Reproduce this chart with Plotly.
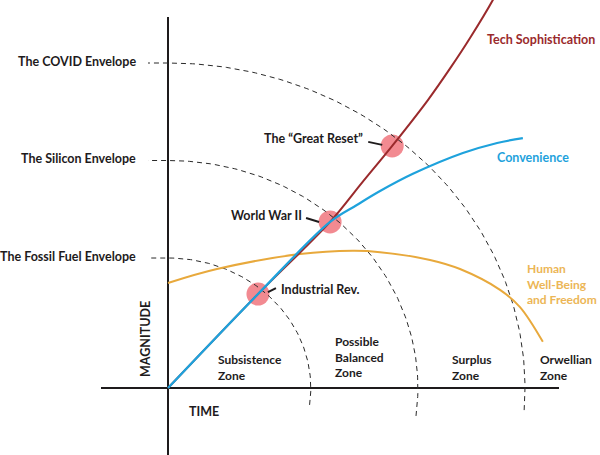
import numpy as np
import plotly.graph_objects as go

# ---------------- data ----------------
envelope_names = ["The Fossil Fuel Envelope", "The Silicon Envelope", "The COVID Envelope"]
envelope_radius = [4.0, 7.0, 10.0]
envelope_tail = [0.52, 0.86, 0.68]      # how far each arc dips below the time axis

tech_x = [0.0, 2.52, 4.54, 5.43, 6.28, 7.28, 7.93, 8.46, 9.10, 9.27]
tech_y = [0.0, 2.89, 5.11, 6.31, 7.45, 8.86, 9.88, 10.77, 11.94, 12.31]

conv_x = [0.0, 2.52, 4.54, 5.29, 5.94, 6.86, 8.26, 9.22, 9.94]
conv_y = [0.0, 2.89, 5.11, 5.63, 6.06, 6.59, 7.23, 7.54, 7.69]

human_x = [0.0, 1.37, 3.70, 5.18, 5.94, 7.34, 8.18, 9.30, 9.86, 10.50]
human_y = [3.23, 3.66, 4.12, 4.22, 4.18, 3.94, 3.66, 3.02, 2.49, 1.42]

event_names = ["Industrial Rev.", "World War II", "The \u201cGreat Reset\u201d"]
event_x = [2.52, 4.54, 6.28]
event_y = [2.89, 5.11, 7.45]

zone_names = ["Subsistence<br>Zone", "Possible<br>Balanced<br>Zone", "Surplus<br>Zone", "Orwellian<br>Zone"]

# ---------------- styling / layout helpers ----------------
W, H = 600, 455
OX, OY = 168, 388           # pixel position of origin
XS, YS = 35.7, 32.5         # pixels per data unit
def dx(px):  # pixel x -> data x
    return (px - OX) / XS
def dy(py):  # pixel y -> data y
    return (OY - py) / YS

FONT = "Lato, 'Open Sans', sans-serif"
FS = 12.5
INK = "#1e1b1c"
RED = "#9a2a2c"
BLUE = "#1ea2dc"
ORANGE = "#e8a93c"
ORANGE_TXT = "#ecb656"
PINK = "rgba(240,118,126,0.85)"

fig = go.Figure()

# event circles
fig.add_trace(go.Scatter(x=event_x, y=event_y, mode="markers",
                         marker=dict(size=23, color=PINK, line=dict(width=0)),
                         hoverinfo="skip", showlegend=False))

# envelope arcs
for r, tail in zip(envelope_radius, envelope_tail):
    t0 = -np.arcsin(tail / r)
    th = np.linspace(t0, np.pi / 2, 120)
    ax_ = list(r * np.cos(th)) + [dx(OX - 20)]
    ay_ = list(r * np.sin(th)) + [r]
    fig.add_trace(go.Scatter(x=ax_, y=ay_, mode="lines",
                             line=dict(color="#2a2a2a", width=1, dash="5px,4px"),
                             hoverinfo="skip", showlegend=False))

# curves
fig.add_trace(go.Scatter(x=human_x, y=human_y, mode="lines",
                         line=dict(color=ORANGE, width=2, shape="spline", smoothing=1.0),
                         hoverinfo="skip", showlegend=False))
fig.add_trace(go.Scatter(x=tech_x, y=tech_y, mode="lines",
                         line=dict(color=RED, width=2, shape="spline", smoothing=1.0),
                         hoverinfo="skip", showlegend=False))
fig.add_trace(go.Scatter(x=conv_x, y=conv_y, mode="lines",
                         line=dict(color=BLUE, width=2.2, shape="spline", smoothing=1.0),
                         hoverinfo="skip", showlegend=False))

shapes = []
# axes lines
shapes.append(dict(type="line", x0=0, x1=0, y0=dy(17), y1=dy(460),
                   line=dict(color=INK, width=2), layer="below"))
shapes.append(dict(type="line", x0=dx(101), x1=dx(559), y0=0, y1=0,
                   line=dict(color=INK, width=2), layer="below"))

# pointer lines (pixel offsets from each event)
pointer_px = [((18, -6), (10, -2)), ((-24, -4), (-11, 0)), ((-24, -4), (-10, -1))]
for (exv, eyv, ((a, b), (c, d))) in zip(event_x, event_y, pointer_px):
    shapes.append(dict(type="line",
                       x0=exv + a / XS, y0=eyv - b / YS,
                       x1=exv + c / XS, y1=eyv - d / YS,
                       line=dict(color=INK, width=2)))

annotations = []
def txt(x, y, s, color=INK, xanchor="left", size=FS, textangle=0, align="left"):
    annotations.append(dict(x=x, y=y, text="<b>" + s + "</b>", showarrow=False,
                            xanchor=xanchor, yanchor="middle", align=align,
                            textangle=textangle,
                            font=dict(family=FONT, size=size, color=color)))

# envelope labels
for name, r in zip(envelope_names, envelope_radius):
    txt(dx(138), r + 0.05, name, xanchor="right")

# series labels
txt(dx(485), dy(39), "Tech Sophistication", color=RED)
txt(dx(495), dy(157), "Convenience", color=BLUE)
txt(dx(525), dy(284), "Human<br>Well-Being<br>and Freedom", color=ORANGE_TXT, size=12)

# event labels
txt(dx(279), dy(289), event_names[0])
txt(dx(304), dy(215), event_names[1], xanchor="right")
txt(dx(365), dy(138), event_names[2], xanchor="right")

# zone labels
zone_px = [(216, 367), (333, 357), (450, 367), (538, 367)]
for name, (zx, zy) in zip(zone_names, zone_px):
    txt(dx(zx), dy(zy), name, size=12)

# axis titles
txt(dx(204), dy(411), "TIME", xanchor="center")
txt(dx(145), dy(339), "MAGNITUDE", xanchor="center", textangle=-90)

fig.update_layout(
    width=W, height=H,
    margin=dict(l=0, r=0, t=0, b=0),
    paper_bgcolor="white", plot_bgcolor="white",
    xaxis=dict(range=[dx(0), dx(W)], visible=False, fixedrange=True),
    yaxis=dict(range=[dy(H), dy(0)], visible=False, fixedrange=True),
    shapes=shapes, annotations=annotations,
    showlegend=False,
)

fig.write_html("out.html", config={"displayModeBar": False},
               post_script="document.body.style.margin='0';document.body.style.overflow='hidden';")
